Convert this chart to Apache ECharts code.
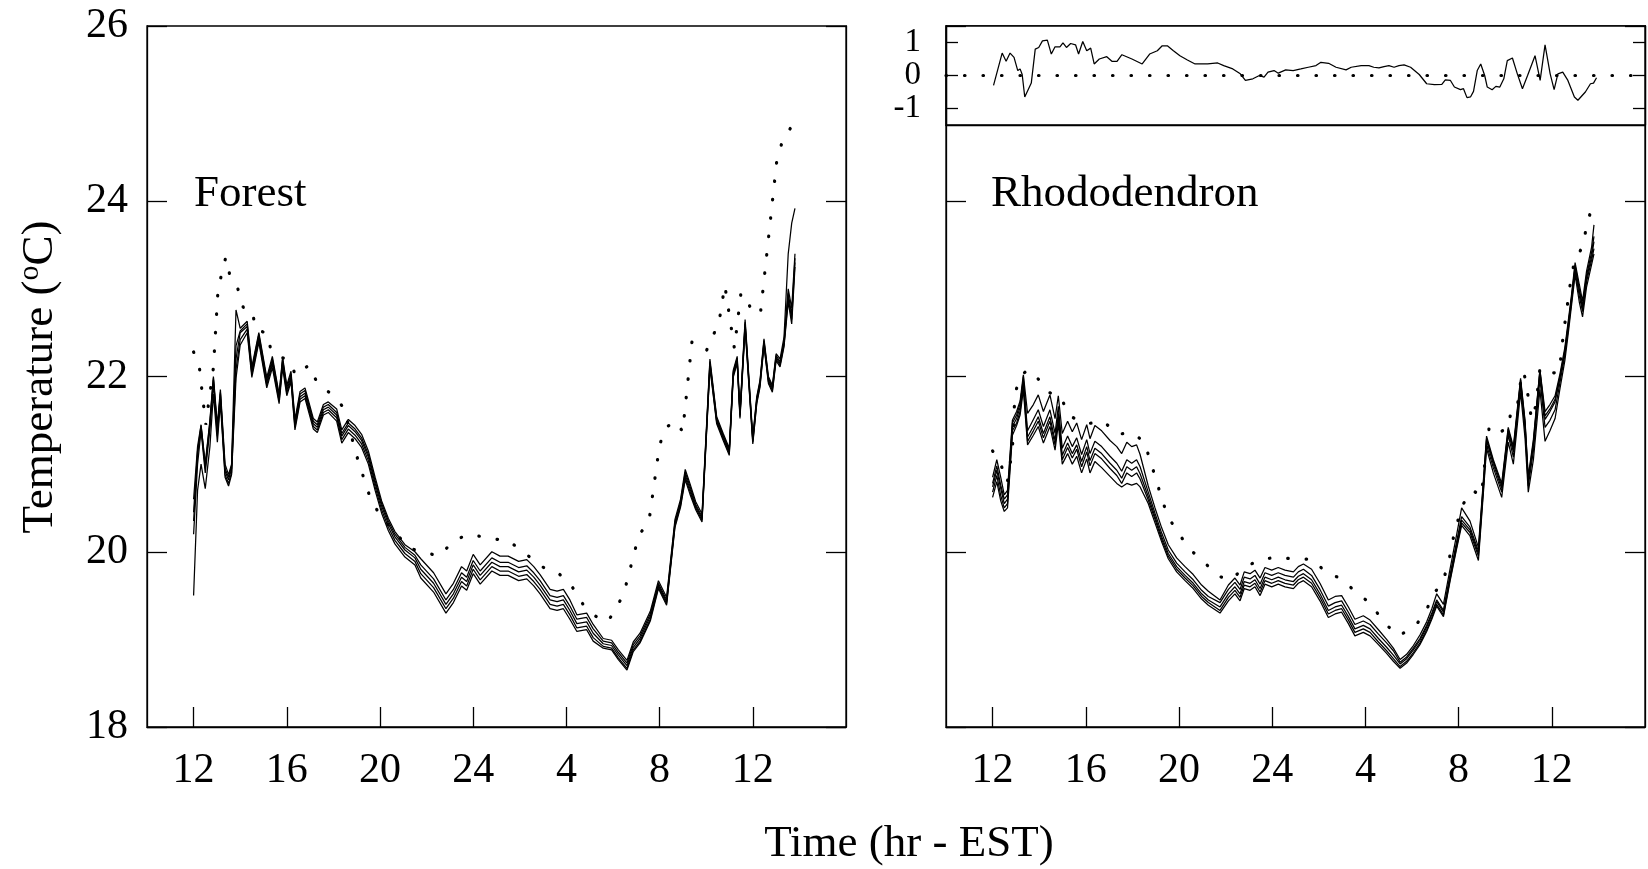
<!DOCTYPE html>
<html><head><meta charset="utf-8">
<script src="https://cdn.jsdelivr.net/npm/echarts@6/dist/echarts.min.js"></script>
<style>html,body{margin:0;padding:0;background:#fff}#c{width:1648px;height:869px}</style>
</head><body><div id="c"></div>
<script>
// ---------------- Forest panel ----------------
const forestHours = [
12.0,12.17,12.32,12.5,12.7,12.85,13.02,13.15,13.35,13.5,
13.63,13.82,14.0,14.3,14.5,14.8,15.14,15.38,15.67,15.82,
16.0,16.18,16.35,16.57,16.78,17.14,17.31,17.57,17.78,18.14,
18.36,18.64,18.93,19.21,19.5,19.79,20.07,20.36,20.64,21.07,
21.5,21.75,22.3,22.83,23.15,23.5,23.72,24.0,24.3,24.8,
25.15,25.5,25.95,26.3,26.6,26.87,27.3,27.6,27.87,28.15,
28.45,28.87,29.15,29.58,29.94,30.23,30.6,30.87,31.16,31.6,
31.95,32.3,32.66,32.9,33.1,33.3,33.55,33.82,34.16,34.45,
34.73,34.99,35.16,35.33,35.45,35.67,36.0,36.17,36.31,36.48,
36.67,36.84,37.0,37.17,37.34,37.52,37.67,37.81];
const forestS1 = [
20.6,21.2,21.45,21.0,21.5,22.0,21.45,21.85,21.0,20.88,
21.0,22.76,22.55,22.63,22.11,22.5,21.99,22.23,21.8,22.22,
21.9,22.06,21.51,21.83,21.87,21.52,21.48,21.68,21.71,21.63,
21.39,21.51,21.44,21.34,21.15,20.85,20.58,20.38,20.23,20.08,
20.0,19.92,19.76,19.52,19.64,19.83,19.78,19.97,19.85,20.0,
19.95,19.95,19.89,19.91,19.83,19.74,19.57,19.55,19.57,19.45,
19.28,19.3,19.17,19.01,18.99,18.88,18.76,18.97,19.07,19.32,
19.67,19.48,20.37,20.6,20.94,20.78,20.57,20.43,22.2,21.54,
21.35,21.18,22.07,22.23,21.6,22.65,21.31,21.77,21.96,22.43,
22.0,21.9,22.26,22.2,22.45,23.4,23.75,23.92];
const forestS2 = [
20.45,21.15,21.44,20.98,21.48,21.98,21.4,21.82,20.95,20.85,
20.98,22.35,22.52,22.6,22.08,22.48,21.96,22.2,21.78,22.2,
21.87,22.03,21.48,21.8,21.84,21.49,21.45,21.65,21.68,21.59,
21.35,21.47,21.4,21.3,21.11,20.81,20.55,20.35,20.2,20.05,
19.96,19.85,19.69,19.45,19.57,19.76,19.71,19.9,19.78,19.93,
19.88,19.88,19.82,19.84,19.76,19.67,19.5,19.48,19.5,19.38,
19.23,19.25,19.12,18.98,18.96,18.85,18.73,18.94,19.04,19.29,
19.64,19.45,20.34,20.57,20.91,20.75,20.54,20.4,22.17,21.52,
21.33,21.16,22.05,22.21,21.58,22.62,21.29,21.75,21.94,22.41,
21.98,21.88,22.24,22.17,22.4,23.0,22.78,23.4];
const forestS3 = [
20.35,21.1,21.42,20.95,21.45,21.96,21.38,21.8,20.92,20.82,
20.95,22.2,22.5,22.57,22.05,22.45,21.93,22.17,21.75,22.17,
21.84,22.0,21.45,21.77,21.81,21.46,21.42,21.62,21.65,21.56,
21.32,21.44,21.37,21.27,21.08,20.78,20.52,20.32,20.17,20.02,
19.93,19.8,19.64,19.4,19.52,19.71,19.66,19.85,19.73,19.88,
19.83,19.83,19.77,19.79,19.71,19.62,19.45,19.43,19.45,19.33,
19.18,19.2,19.07,18.95,18.93,18.82,18.7,18.91,19.01,19.26,
19.62,19.43,20.32,20.55,20.88,20.72,20.52,20.38,22.15,21.5,
21.31,21.14,22.03,22.19,21.56,22.6,21.27,21.73,21.92,22.39,
21.96,21.86,22.22,22.15,22.38,22.95,22.7,23.35];
const forestS4 = [
20.2,21.0,21.38,20.9,21.4,21.92,21.32,21.75,20.88,20.78,
20.9,22.08,22.42,22.54,22.02,22.42,21.9,22.14,21.72,22.14,
21.81,21.97,21.42,21.74,21.78,21.43,21.39,21.59,21.62,21.53,
21.28,21.4,21.33,21.23,21.04,20.74,20.48,20.28,20.13,19.98,
19.89,19.75,19.59,19.35,19.47,19.66,19.61,19.8,19.68,19.83,
19.78,19.78,19.72,19.74,19.66,19.57,19.4,19.38,19.4,19.28,
19.13,19.15,19.02,18.92,18.9,18.79,18.67,18.88,18.98,19.23,
19.6,19.41,20.3,20.53,20.85,20.69,20.5,20.36,22.12,21.48,
21.29,21.12,22.01,22.17,21.54,22.57,21.25,21.71,21.9,22.37,
21.94,21.84,22.2,22.13,22.36,22.9,22.65,23.3];
const forestS5 = [
19.5,20.7,21.0,20.72,21.2,21.8,21.25,21.7,20.85,20.75,
20.88,21.98,22.36,22.5,21.99,22.39,21.87,22.1,21.69,22.1,
21.78,21.94,21.39,21.71,21.75,21.4,21.36,21.56,21.59,21.49,
21.24,21.36,21.29,21.19,21.0,20.7,20.44,20.24,20.09,19.94,
19.85,19.7,19.54,19.3,19.42,19.61,19.56,19.75,19.63,19.78,
19.73,19.73,19.67,19.69,19.61,19.52,19.35,19.33,19.35,19.23,
19.09,19.11,18.98,18.9,18.88,18.77,18.65,18.86,18.96,19.21,
19.58,19.39,20.28,20.51,20.82,20.66,20.48,20.34,22.1,21.46,
21.27,21.1,21.99,22.15,21.52,22.55,21.23,21.69,21.88,22.35,
21.92,21.82,22.18,22.11,22.34,22.85,22.6,23.25];
const forestAirHours = [12.0,12.25,12.52,12.85,13.05,13.38,13.56,13.9,14.13,14.52,14.65,15.18,15.32,15.64,16.14,16.38,16.95,17.3,17.81,18.43,19.07,19.6,20.04,21.26,22.53,23.22,23.91,24.7,25.49,26.25,26.91,27.61,28.27,28.76,29.41,29.75,30.13,30.49,31.1,31.55,31.99,32.22,32.7,32.99,33.39,34.02,34.55,34.8,35.21,35.49,35.72,35.98,36.34,37.02,37.24,37.67];
const forestAir = [22.28,22.1,21.45,22.1,23.0,23.36,23.15,23.0,22.79,22.76,22.54,22.49,22.29,22.24,22.17,22.01,22.13,21.93,21.82,21.65,21.03,20.6,20.4,20.04,19.95,20.14,20.2,20.15,20.13,19.98,19.83,19.77,19.59,19.38,19.23,19.2,19.34,19.55,20.18,20.36,21.2,21.41,21.49,21.37,22.4,22.3,22.62,23.04,22.32,22.95,22.92,22.71,22.75,24.44,24.66,24.86];

// ---------------- Rhododendron panel ----------------
const rhodoHours = [
12.0,12.18,12.35,12.5,12.64,12.85,13.03,13.18,13.32,13.5,
13.75,13.96,14.18,14.46,14.68,14.82,14.99,15.22,15.42,15.61,
15.82,16.04,16.18,16.39,16.68,17.04,17.33,17.54,17.76,17.97,
18.18,18.33,18.68,18.97,19.26,19.54,19.9,20.26,20.61,20.97,
21.26,21.76,22.12,22.4,22.62,22.8,23.05,23.26,23.48,23.69,
23.98,24.26,24.55,24.91,25.12,25.34,25.69,26.05,26.41,26.7,
26.98,27.27,27.55,27.91,28.2,28.56,28.91,29.2,29.49,29.77,
30.06,30.34,30.63,30.85,31.06,31.35,31.63,31.92,32.13,32.49,
32.85,33.06,33.2,33.49,33.85,34.13,34.35,34.66,34.85,34.99,
35.21,35.49,35.71,35.92,36.14,36.35,36.56,36.71,36.85,37.0,
37.18,37.32,37.49,37.71,37.81];
const rhodoS1 = [
20.85,21.05,20.85,20.65,20.7,21.5,21.6,21.72,22.02,21.58,
21.68,21.79,21.6,21.79,21.52,21.78,21.35,21.49,21.37,21.47,
21.28,21.45,21.29,21.44,21.38,21.27,21.2,21.12,21.25,21.2,
21.22,21.11,20.75,20.5,20.27,20.08,19.93,19.83,19.74,19.62,
19.55,19.45,19.62,19.7,19.62,19.77,19.75,19.79,19.7,19.82,
19.79,19.82,19.79,19.77,19.83,19.86,19.8,19.64,19.45,19.49,
19.5,19.37,19.23,19.27,19.22,19.11,19.0,18.9,18.77,18.83,
18.93,19.05,19.2,19.35,19.52,19.4,19.8,20.2,20.5,20.35,
20.05,20.8,21.32,21.05,20.78,21.42,21.2,21.98,21.5,20.86,
21.28,22.08,21.6,21.68,21.78,22.03,22.33,22.64,22.94,23.3,
23.05,22.86,23.2,23.48,23.73];
const rhodoS2 = [
20.78,20.98,20.76,20.6,20.65,21.47,21.56,21.69,21.96,21.38,
21.51,21.62,21.43,21.62,21.35,21.66,21.18,21.32,21.2,21.3,
21.11,21.28,21.12,21.26,21.2,21.09,21.01,20.92,21.05,21.01,
21.05,20.97,20.68,20.44,20.21,20.02,19.87,19.77,19.68,19.56,
19.49,19.42,19.57,19.65,19.57,19.71,19.69,19.73,19.63,19.76,
19.73,19.76,19.73,19.71,19.77,19.8,19.73,19.57,19.38,19.42,
19.44,19.31,19.17,19.21,19.17,19.06,18.96,18.87,18.74,18.8,
18.9,19.01,19.16,19.3,19.45,19.33,19.73,20.12,20.4,20.28,
20.01,20.77,21.29,21.03,20.75,21.4,21.17,21.96,21.48,20.83,
21.25,22.07,21.55,21.63,21.74,22.0,22.3,22.61,22.91,23.27,
23.0,22.81,23.15,23.42,23.6];
const rhodoS3 = [
20.74,20.93,20.72,20.55,20.6,21.43,21.52,21.65,22.0,21.31,
21.43,21.54,21.35,21.54,21.27,21.58,21.1,21.24,21.12,21.22,
21.03,21.2,21.04,21.18,21.12,21.01,20.93,20.84,20.97,20.93,
20.97,20.89,20.63,20.4,20.17,19.98,19.83,19.73,19.64,19.52,
19.45,19.37,19.52,19.6,19.52,19.66,19.64,19.68,19.58,19.71,
19.68,19.71,19.68,19.66,19.72,19.75,19.68,19.52,19.33,19.37,
19.39,19.26,19.12,19.16,19.12,19.01,18.91,18.82,18.72,18.78,
18.88,18.99,19.14,19.28,19.43,19.31,19.71,20.09,20.36,20.25,
19.98,20.74,21.27,21.0,20.72,21.37,21.14,21.94,21.45,20.8,
21.22,22.05,21.51,21.6,21.71,21.98,22.28,22.59,22.89,23.24,
22.97,22.78,23.12,23.37,23.54];
const rhodoS4 = [
20.68,20.87,20.64,20.5,20.55,21.38,21.47,21.6,21.9,21.26,
21.38,21.49,21.3,21.49,21.22,21.53,21.05,21.19,21.07,21.17,
20.97,21.14,20.98,21.12,21.06,20.95,20.87,20.78,20.9,20.86,
20.9,20.83,20.59,20.37,20.14,19.95,19.8,19.7,19.61,19.49,
19.42,19.33,19.48,19.56,19.48,19.62,19.6,19.64,19.54,19.67,
19.64,19.67,19.64,19.62,19.68,19.71,19.64,19.48,19.29,19.33,
19.35,19.22,19.08,19.12,19.08,18.97,18.87,18.78,18.69,18.75,
18.85,18.96,19.11,19.25,19.4,19.28,19.68,20.06,20.33,20.22,
19.95,20.7,21.22,20.96,20.68,21.33,21.08,21.9,21.4,20.75,
21.15,21.97,21.42,21.5,21.62,21.93,22.24,22.55,22.86,23.2,
22.92,22.74,23.08,23.33,23.46];
const rhodoS5 = [
20.62,20.8,20.58,20.46,20.5,21.33,21.44,21.56,21.85,21.22,
21.33,21.43,21.24,21.43,21.16,21.46,21.0,21.12,21.0,21.09,
20.9,21.06,20.9,21.03,20.96,20.86,20.78,20.74,20.78,20.76,
20.78,20.74,20.55,20.33,20.11,19.92,19.77,19.67,19.58,19.46,
19.39,19.3,19.44,19.52,19.44,19.58,19.56,19.6,19.5,19.63,
19.6,19.63,19.6,19.58,19.64,19.67,19.6,19.44,19.25,19.29,
19.31,19.18,19.04,19.08,19.04,18.94,18.84,18.75,18.67,18.73,
18.83,18.94,19.09,19.23,19.38,19.26,19.66,20.04,20.3,20.18,
19.9,20.66,21.18,20.9,20.62,21.25,21.0,21.82,21.3,20.68,
21.05,21.85,21.26,21.38,21.52,21.86,22.18,22.5,22.82,23.16,
22.85,22.68,23.02,23.28,23.4];
const rhodoAirHours = [12.0,12.35,12.63,12.85,12.96,13.22,13.53,13.96,14.39,14.92,15.29,16.04,16.75,17.37,17.93,18.51,18.76,19.0,19.23,19.51,19.97,20.54,21.12,21.69,22.23,22.8,23.48,24.26,25.05,25.74,26.31,27.01,27.61,28.23,28.77,29.41,30.1,30.56,30.92,31.35,31.59,31.72,31.92,32.16,32.59,32.99,33.06,33.32,33.8,34.13,34.25,34.52,34.6,34.78,34.89,35.13,35.32,35.49,35.78,36.32,36.49,36.82,36.97,37.35,37.49,37.71];
const rhodoAir = [21.15,21.0,20.79,21.17,21.81,22.01,22.08,21.97,21.82,21.77,21.55,21.46,21.49,21.34,21.36,21.26,21.04,20.84,20.63,20.41,20.21,20.01,19.87,19.72,19.68,19.82,19.91,19.94,19.91,19.92,19.76,19.69,19.53,19.41,19.2,19.04,19.14,19.3,19.51,19.68,19.9,20.1,20.31,20.53,20.7,20.64,20.86,21.44,21.37,21.41,21.61,21.64,21.86,22.06,21.94,21.51,21.67,22.09,22.03,22.05,22.47,23.11,23.31,23.5,23.72,23.92];

// ---------------- Inset: difference ----------------
const diffHours = [12.04,12.41,12.58,12.75,12.92,13.08,13.18,13.27,13.38,13.66,
13.83,13.98,14.14,14.35,14.52,14.68,14.89,15.02,15.17,15.35,
15.56,15.69,15.87,16.04,16.21,16.36,16.58,16.9,17.12,17.34,
17.55,17.98,18.42,18.74,19.07,19.28,19.5,19.76,20.04,20.36,
20.69,21.23,21.66,21.92,22.31,22.63,22.85,23.17,23.45,23.65,
23.82,24.08,24.26,24.58,24.9,25.23,25.55,25.88,26.09,26.42,
26.74,27.17,27.39,27.82,28.15,28.36,28.58,28.8,29.01,29.23,
29.44,29.66,29.94,30.31,30.63,30.96,31.28,31.43,31.65,31.82,
32.08,32.21,32.36,32.51,32.64,32.8,32.95,33.12,33.23,33.44,
33.6,33.77,33.94,34.09,34.31,34.52,34.74,34.96,35.28,35.5,
35.71,35.93,36.1,36.26,36.47,36.69,36.97,37.12,37.44,37.66,
37.79,37.92];
const diffValues = [-0.30,0.68,0.43,0.68,0.55,0.15,0.20,0.03,-0.65,-0.23,
0.80,0.85,1.05,1.07,0.65,0.87,0.87,0.99,0.85,0.97,
0.93,0.65,1.03,0.75,0.83,0.35,0.50,0.57,0.43,0.43,
0.63,0.50,0.35,0.65,0.75,0.90,0.90,0.75,0.60,0.47,
0.35,0.35,0.38,0.30,0.20,0.05,-0.15,-0.10,0.0,-0.05,
0.10,0.15,0.07,0.17,0.15,0.20,0.25,0.30,0.40,0.37,
0.25,0.17,0.25,0.30,0.30,0.25,0.23,0.27,0.30,0.25,
0.30,0.32,0.25,0.03,-0.25,-0.28,-0.27,-0.13,-0.15,-0.35,
-0.43,-0.40,-0.67,-0.65,-0.48,0.15,0.35,0.0,-0.35,-0.43,
-0.33,-0.35,-0.10,0.45,0.53,0.05,-0.40,0.0,0.60,-0.15,
0.93,0.05,-0.43,0.05,0.10,-0.15,-0.65,-0.75,-0.50,-0.25,
-0.23,-0.07];
const zeroHours = [10, 40];
const zeroValues = [0, 0];

// ---------------- Axis ticks / labels ----------------
const xTickValues = [12, 16, 20, 24, 28, 32, 36];
const xTickLabels = ['12', '16', '20', '24', '4', '8', '12'];
const tempTicks = [18, 20, 22, 24, 26];
const diffTicks = [-1, 0, 1];

// ---------------- Chart ----------------
const FONT = 'Liberation Serif';
const BLACK = '#000';
function pairs(h, v) { return h.map((x, i) => [x, v[i]]); }

function xMain(gi) {
  return {
    type: 'value', gridIndex: gi, min: 10, max: 40,
    axisLine: { show: true, onZero: false, lineStyle: { color: BLACK, width: 1.3 } },
    axisTick: { show: true, inside: true, length: 20, customValues: xTickValues, lineStyle: { color: BLACK, width: 1.3 } },
    axisLabel: { show: true, customValues: xTickValues, margin: 23, fontFamily: FONT, fontSize: 42, color: BLACK, hideOverlap: false,
      formatter: v => xTickLabels[xTickValues.indexOf(v)] },
    splitLine: { show: false }
  };
}
function yMain(gi, pos, labels) {
  return {
    type: 'value', gridIndex: gi, position: pos, min: 18, max: 26, interval: 2,
    axisLine: { show: true, onZero: false, lineStyle: { color: BLACK, width: 1.3 } },
    axisTick: { show: true, inside: true, length: 20, customValues: tempTicks, lineStyle: { color: BLACK, width: 1.3 } },
    axisLabel: { show: labels, customValues: tempTicks, margin: 19, fontFamily: FONT, fontSize: 42, color: BLACK, hideOverlap: false },
    splitLine: { show: false }
  };
}
function yInset(pos, labels) {
  return {
    type: 'value', gridIndex: 2, position: pos, min: -1.5, max: 1.5,
    axisLine: { show: true, onZero: false, lineStyle: { color: BLACK, width: 1.3 } },
    axisTick: { show: true, inside: true, length: 12, customValues: diffTicks, lineStyle: { color: BLACK, width: 1.3 } },
    axisLabel: { show: labels, customValues: diffTicks, margin: 25, fontFamily: FONT, fontSize: 33,
      color: BLACK, hideOverlap: false },
    splitLine: { show: false }
  };
}
function solid(h, v, xi, yi) {
  return { type: 'line', xAxisIndex: xi, yAxisIndex: yi, data: pairs(h, v), symbol: 'none', silent: true,
    lineStyle: { color: BLACK, width: 1.25 }, z: 3 };
}
function dotted(h, v, xi, yi) {
  return { type: 'line', xAxisIndex: xi, yAxisIndex: yi, data: pairs(h, v), symbol: 'none', silent: true,
    lineStyle: { color: BLACK, width: 3.2, type: [0.5, 18], cap: 'round' }, z: 2 };
}

const chart = echarts.init(document.getElementById('c'), null, { renderer: 'canvas' });
chart.setOption({
  animation: false,
  backgroundColor: '#fff',
  grid: [
    { left: 147, top: 26, width: 699, height: 701, show: true, borderColor: BLACK, borderWidth: 1.3, backgroundColor: 'transparent' },
    { left: 946, top: 26, width: 699, height: 701, show: true, borderColor: BLACK, borderWidth: 1.3, backgroundColor: 'transparent' },
    { left: 946, top: 26, width: 699, height: 99, show: true, borderColor: BLACK, borderWidth: 1.3, backgroundColor: '#fff' }
  ],
  xAxis: [
    xMain(0), xMain(1),
    { type: 'value', gridIndex: 2, min: 10, max: 40, axisLine: { show: true, onZero: false, lineStyle: { color: BLACK, width: 1.3 } },
      axisTick: { show: false }, axisLabel: { show: false }, splitLine: { show: false } }
  ],
  yAxis: [
    yMain(0, 'left', true), yMain(0, 'right', false),
    yMain(1, 'left', false), yMain(1, 'right', false),
    yInset('left', true), yInset('right', false)
  ],
  series: [
    solid(forestHours, forestS1, 0, 0), solid(forestHours, forestS2, 0, 0), solid(forestHours, forestS3, 0, 0),
    solid(forestHours, forestS4, 0, 0), solid(forestHours, forestS5, 0, 0),
    dotted(forestAirHours, forestAir, 0, 0),
    solid(rhodoHours, rhodoS1, 1, 2), solid(rhodoHours, rhodoS2, 1, 2), solid(rhodoHours, rhodoS3, 1, 2),
    solid(rhodoHours, rhodoS4, 1, 2), solid(rhodoHours, rhodoS5, 1, 2),
    dotted(rhodoAirHours, rhodoAir, 1, 2),
    solid(diffHours, diffValues, 2, 4),
    dotted(zeroHours, zeroValues, 2, 4)
  ],
  graphic: [
    { type: 'text', x: 40, y: 377, rotation: Math.PI / 2,
      style: { text: '{a|Temperature (}{s|o}{a|C)}', align: 'center', verticalAlign: 'middle',
        rich: { a: { fontSize: 45, fontFamily: FONT, fill: BLACK, lineHeight: 50, verticalAlign: 'middle' },
                s: { fontSize: 30, fontFamily: FONT, fill: BLACK, lineHeight: 50, verticalAlign: 'top' } } } },
    { type: 'text', x: 909, y: 844, style: { text: 'Time (hr - EST)', fontSize: 45, fontFamily: FONT, fill: BLACK, align: 'center', verticalAlign: 'middle' } },
    { type: 'text', x: 194, y: 194, style: { text: 'Forest', fontSize: 45, fontFamily: FONT, fill: BLACK, align: 'left', verticalAlign: 'middle' } },
    { type: 'text', x: 991, y: 194, style: { text: 'Rhododendron', fontSize: 45, fontFamily: FONT, fill: BLACK, align: 'left', verticalAlign: 'middle' } }
  ]
});
</script>
</body></html>
